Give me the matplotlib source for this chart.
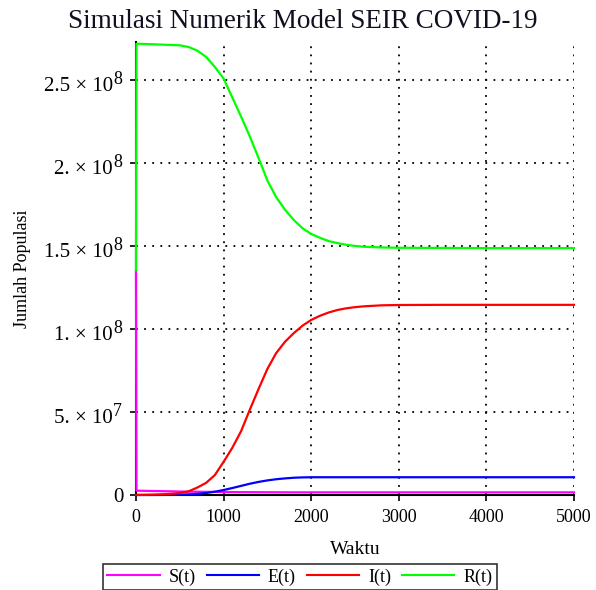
import numpy as np
import matplotlib
matplotlib.use('Agg')
import matplotlib.pyplot as plt
import matplotlib.transforms as mtrans
from matplotlib.ticker import FixedLocator

plt.rcParams['font.family'] = ['Liberation Serif', 'DejaVu Serif']

# --- data (values in millions) ---
t = [0, 5, 100, 200, 300, 400, 500, 600, 700, 800, 900, 1000, 1100, 1200,
     1300, 1400, 1500, 1600, 1700, 1800, 1900, 2000, 2100, 2200, 2300, 2400,
     2500, 2600, 2800, 3000, 3500, 4000, 4500, 5000]
S = [135.5, 2.6, 2.5, 2.4, 2.3, 2.2, 2.1, 2.0, 1.95, 1.9, 1.85, 1.8, 1.75, 1.72,
     1.7, 1.68, 1.66, 1.64, 1.62, 1.6, 1.6, 1.6, 1.6, 1.6, 1.6, 1.6,
     1.6, 1.6, 1.6, 1.6, 1.6, 1.6, 1.6, 1.6]
E = [0, 0, 0, 0.02, 0.05, 0.1, 0.2, 0.4, 0.7, 1.2, 2.0, 3.0, 4.2, 5.5,
     6.8, 7.9, 8.8, 9.5, 10.0, 10.4, 10.6, 10.7, 10.7, 10.7, 10.7, 10.7,
     10.7, 10.7, 10.7, 10.7, 10.7, 10.7, 10.7, 10.7]
I = [0.05, 0.05, 0.1, 0.2, 0.4, 0.7, 1.2, 2.2, 4.5, 7.3, 12, 20, 28.5, 38.5,
     51.5, 64, 76, 85.5, 92.3, 97.5, 102, 105.5, 108, 110, 111.5, 112.5,
     113.2, 113.7, 114.3, 114.5, 114.6, 114.6, 114.6, 114.6]
R = [135.5, 272, 271.8, 271.6, 271.4, 271.2, 271.0, 270.0, 267.8, 264.0, 258.0, 251.0, 239.5, 228.0,
     216.0, 203.0, 189.5, 179.5, 172.0, 165.8, 160.8, 157.3, 155.0, 153.0, 151.8, 150.8,
     150.1, 149.6, 149.2, 149.0, 148.9, 148.8, 148.8, 148.8]

yticks = [0, 5e7, 1e8, 1.5e8, 2e8, 2.5e8]
ymant = ['0', '5. \u00d7 10', '1. \u00d7 10', '1.5 \u00d7 10', '2. \u00d7 10', '2.5 \u00d7 10']
yexp = ['', '7', '8', '8', '8', '8']
xticks = [0, 1000, 2000, 3000, 4000, 5000]

fig = plt.figure(figsize=(5.96, 5.90), dpi=100)
ax = fig.add_axes([136/596, 1-495/590, 438/596, 453/590])

series = [(S, '#ff00ff', 'S(t)'), (E, '#0000ff', 'E(t)'),
          (I, '#ff0000', 'I(t)'), (R, '#00ff00', 'R(t)')]
for vals, col, lab in series:
    ax.plot(t, np.array(vals)*1e6, '-', color=col, lw=1.6,
            label=lab, zorder=3, clip_on=False)

ax.set_xlim(0, 5000)
ax.set_ylim(0, 2.73e8)
ax.xaxis.set_major_locator(FixedLocator(xticks))
ax.yaxis.set_major_locator(FixedLocator(yticks))
ax.grid(True, color='black', linestyle=(0, (1, 3.5)), linewidth=1.3)
ax.spines['top'].set_visible(False)
ax.spines['right'].set_visible(False)
ax.spines['left'].set_linewidth(1.5)
ax.spines['bottom'].set_linewidth(1.5)
ax.tick_params(direction='out', length=4, width=1.2, labelsize=13, colors='black')
ax.tick_params(axis='x', pad=6)
ax.tick_params(axis='y', labelleft=False)

# Maple-style y tick labels: mantissa x 10 with a large superscript
blend = mtrans.blended_transform_factory(ax.transAxes, ax.transData)
def px(dx, dy):
    return blend + mtrans.ScaledTranslation(dx/100., dy/100., fig.dpi_scale_trans)
for yv, m, e in zip(yticks, ymant, yexp):
    if e:
        ax.text(0, yv, m, transform=px(-23, -6), ha='right', va='center',
                fontsize=15, clip_on=False)
        ax.text(0, yv, e, transform=px(-23, 1), ha='left', va='center',
                fontsize=13, clip_on=False)
    else:
        ax.text(0, yv, m, transform=px(-12, -2), ha='right', va='center',
                fontsize=15, clip_on=False)

ax.set_xlabel('Waktu', fontsize=14)
ax.xaxis.set_label_coords(0.5, -(541-495)/453)
ax.set_ylabel('Jumlah Populasi', fontsize=13)
ax.yaxis.set_label_coords(-(136-31)/438, 0.5)
fig.text(0.5076, 1-22/590, 'Simulasi Numerik Model SEIR COVID-19',
         ha='center', va='center', fontsize=19.5, color='#101020')

leg = fig.legend(loc='upper center', bbox_to_anchor=(0.503, 1-564/590), ncol=4,
                 fontsize=13, frameon=True, fancybox=False, edgecolor='black',
                 handlelength=2.9, columnspacing=0.6, handletextpad=0.5,
                 borderpad=0.25, borderaxespad=0)
leg.get_frame().set_linewidth(1.2)
for h in leg.get_lines():
    h.set_linewidth(1.5)

fig.savefig('out.png', dpi=100)
